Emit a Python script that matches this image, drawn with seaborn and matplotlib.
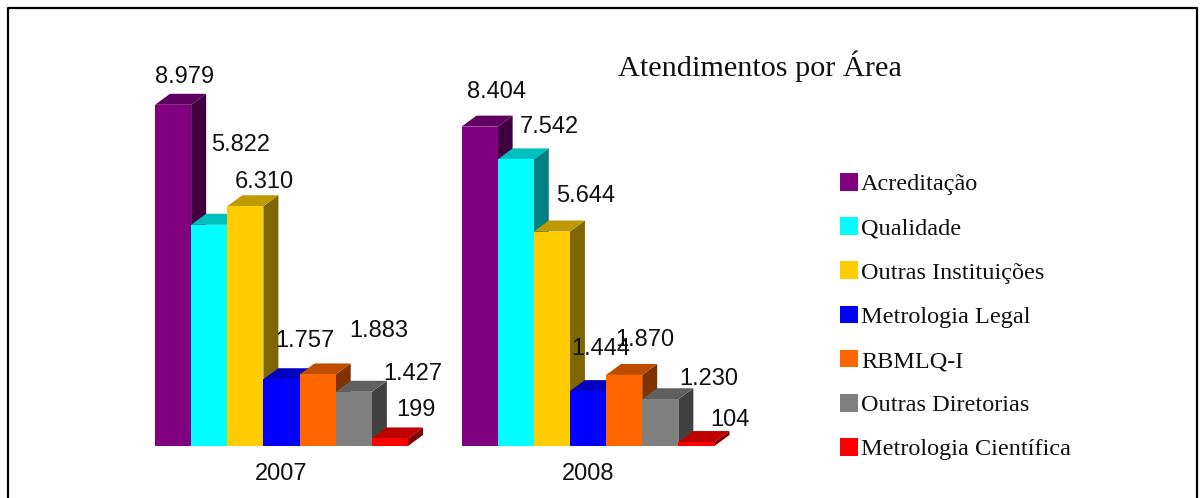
import matplotlib
matplotlib.use("Agg")
import matplotlib.pyplot as plt
from matplotlib.colors import to_rgb
from matplotlib.lines import Line2D
import pandas as pd
import seaborn as sns

years = ["2007", "2008"]
areas = ["Acreditação", "Qualidade", "Outras Instituições", "Metrologia Legal",
         "RBMLQ-I", "Outras Diretorias", "Metrologia Científica"]
values_2007 = [8979, 5822, 6310, 1757, 1883, 1427, 199]
values_2008 = [8404, 7542, 5644, 1444, 1870, 1230, 104]
colors = ["#800080", "#00FFFF", "#FFCC00", "#0000FF", "#FF6600", "#808080", "#FF0000"]

# manual label placement in pixels from each bar's top centre (dx, up)
label_offsets = {
    0: [(11, 30), (31, 82), (19, 26), (23, 40), (61, 45), (59, 20), (26, 30)],
    1: [(17, 37), (34, 34), (34, 38), (13, 44), (21, 37), (48, 22), (34, 24)],
}

W, H = 1204, 498
PX_PER_CAT = 306.5
PX_PER_UNIT = 0.038
DEPTH_X, DEPTH_Y = 15, 11
BASE_Y = 446
CAT0_X = 281.5

sns.set_theme(style="white")
plt.rcParams["font.family"] = ["Liberation Sans", "DejaVu Sans"]
fig = plt.figure(figsize=(W / 100, H / 100), dpi=100, facecolor="white")

ax_l, ax_r, ax_t = 60, 800, 20
ax = fig.add_axes([ax_l / W, (H - BASE_Y) / H, (ax_r - ax_l) / W, (BASE_Y - ax_t) / H])
ax.patch.set_alpha(0)

df = pd.DataFrame({
    "year": [y for y in years for _ in areas],
    "area": areas * len(years),
    "value": values_2007 + values_2008,
})
sns.barplot(data=df, x="year", y="value", hue="area", hue_order=areas, order=years,
            palette=colors, width=253 / PX_PER_CAT, gap=0, saturation=1,
            errorbar=None, linewidth=0, ax=ax)
handles, labels = ax.get_legend_handles_labels()

ax.set_xlim((ax_l - CAT0_X) / PX_PER_CAT, (ax_r - CAT0_X) / PX_PER_CAT)
ax.set_ylim(0, (BASE_Y - ax_t) / PX_PER_UNIT)
ax.set_xlabel("")
ax.set_ylabel("")
ax.set_yticks([])
ax.tick_params(axis="x", length=0, pad=12.5, labelsize=17, labelcolor="#111111")
sns.despine(ax=ax, left=True, bottom=True)

dx = DEPTH_X / PX_PER_CAT
dy = DEPTH_Y / PX_PER_UNIT


def shade(color, k):
    return tuple(c * k for c in to_rgb(color))


for i, (container, color) in enumerate(zip(ax.containers, colors)):
    for j, bar in enumerate(container):
        x0 = bar.get_x()
        x1 = x0 + bar.get_width()
        top = bar.get_height()
        z = 3 + i * 3
        ax.fill([x1, x1 + dx, x1 + dx, x1], [0, dy, top + dy, top],
                color=shade(color, 0.5), lw=0, zorder=z)
        ax.fill([x0, x0 + dx, x1 + dx, x1], [top, top + dy, top + dy, top],
                color=shade(color, 0.75), lw=0, zorder=z + 1)
        bar.set_zorder(z + 2)
        off_x, off_up = label_offsets[j][i]
        text = f"{values_2007[i] if j == 0 else values_2008[i]:,}".replace(",", ".")
        ax.annotate(text, xy=((x0 + x1) / 2, top),
                    xytext=(off_x * 0.72, (off_up - 2) * 0.72),
                    textcoords="offset points", ha="center", va="center",
                    fontsize=17, color="#111111", zorder=40)

ax.legend(handles, labels, loc="upper left",
          bbox_to_anchor=((840 - ax_l) / (ax_r - ax_l), (BASE_Y - 173) / (BASE_Y - ax_t)),
          frameon=False, prop={"family": "Liberation Serif", "size": 17.5},
          handlelength=0.74, handleheight=0.74, handletextpad=0.12,
          labelspacing=0.90, borderpad=0, borderaxespad=0, labelcolor="#111111")

fig.text(760 / W, 1 - 66 / H, "Atendimentos por Área", ha="center", va="center",
         family="Liberation Serif", fontsize=21.8, color="#111111")

fig.add_artist(Line2D([8 / W, 8 / W, 1197 / W, 1197 / W],
                      [-0.02, 1 - 8 / H, 1 - 8 / H, -0.02],
                      color="black", lw=1.6, transform=fig.transFigure))

fig.savefig("out.png", dpi=100, facecolor="white")
